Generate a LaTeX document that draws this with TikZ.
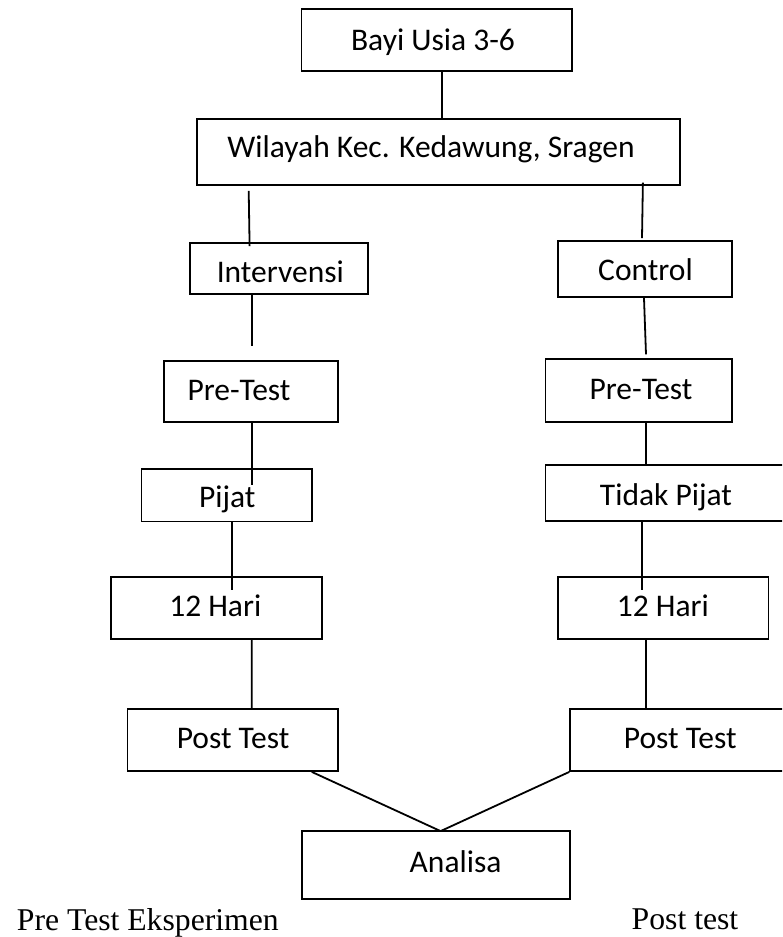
\documentclass[tikz,border=0pt]{standalone}
\usepackage{fontspec}
\setmainfont{Liberation Serif}
\newfontfamily\boxfont{Carlito}
\usetikzlibrary{calc}
\tikzset{
  box/.style={draw=black, line width=1.8pt, rectangle, inner sep=0pt, fill=none},
  lbl/.style={font=\boxfont\fontsize{31.5}{36}\selectfont, anchor=base, inner sep=0pt},
  captext/.style={font=\fontsize{31.7}{36}\selectfont, anchor=base west, inner sep=0pt},
  conn/.style={draw=black, line width=1.8pt}
}
\begin{document}
\begin{tikzpicture}[x=1pt, y=-1pt]
\useasboundingbox (0,0) rectangle (782,937);
\clip (0,0) rectangle (782,937);
\fill[white] (0,0) rectangle (782,937);

% boxes
\node[box, minimum width=270.2pt, minimum height=62pt]   (bayi)  at (436.6,40.3)   {};
\node[box, minimum width=483pt,   minimum height=66pt]   (wil)   at (438.5,152.3)  {};
\node[box, minimum width=178.2pt, minimum height=50.7pt] (int)   at (278.7,268.65) {};
\node[box, minimum width=174.3pt, minimum height=56pt]   (ctl)   at (644.85,269.3) {};
\node[box, minimum width=174pt,   minimum height=61pt]   (preL)  at (251,391.5)    {};
\node[box, minimum width=186.5pt, minimum height=62.7pt] (preR)  at (638.75,390.65){};
\node[box, minimum width=170.5pt, minimum height=52.2pt] (pijat) at (226.75,495.4) {};
\node[box, minimum width=244.5pt, minimum height=56pt]   (tidak) at (667.75,493.3) {};
\node[box, minimum width=210.7pt, minimum height=62.3pt] (hariL) at (216.65,607.85){};
\node[box, minimum width=210.4pt, minimum height=62.3pt] (hariR) at (663.2,607.85) {};
\node[box, minimum width=210.6pt, minimum height=62.3pt] (postL) at (232.7,739.85) {};
\node[box, minimum width=219.8pt, minimum height=62.3pt] (postR) at (680.1,739.85) {};
\node[box, minimum width=268.4pt, minimum height=68.3pt] (ana)   at (436,864.85)   {};

% box texts
\node[lbl] (bayiT)  at (433,50)      {Bayi Usia 3-6};
\node[lbl] (wilT)   at (431,157.3)   {Wilayah Kec. Kedawung, Sragen};
\node[lbl] (intT)   at (280.3,282.7) {Intervensi};
\node[lbl] (ctlT)   at (645.5,280)   {Control};
\node[lbl] (preLT)  at (239,400)     {Pre-Test};
\node[lbl] (preRT)  at (641,399.3)   {Pre-Test};
\node[lbl] (pijatT) at (227.2,507)   {Pijat};
\node[lbl] (tidakT) at (666,505)     {Tidak Pijat};
\node[lbl] (hariLT) at (215.3,616.7) {12 Hari};
\node[lbl] (hariRT) at (662.9,616.7) {12 Hari};
\node[lbl] (postLT) at (233.1,748.7) {Post Test};
\node[lbl] (postRT) at (680.3,748.7) {Post Test};
\node[lbl] (anaT)   at (455.6,872)   {Analisa};

% captions
\node[captext] (capL) at (16.7,930) {Pre Test Eksperimen};
\node[captext] (capR) at (631.5,929) {Post test};

% connectors
\draw[conn] ($(bayi.south)+(5.4,0)$) -- ($(wil.north)+(3.5,0)$);
\draw[conn] ($(wil.south west)+(52.6,4.7)$) -- ($(int.north)+(-29.1,3.7)$);
\draw[conn] ($(wil.south east)+(-38,-3.6)$) -- ($(ctl.north)+(-2.85,-2.3)$);
\draw[conn] ($(int.south)+(-27,0)$) -- ($(preL.north)+(0.7,-13.7)$);
\draw[conn] ($(ctl.south)+(-0.85,0)$) -- ($(preR.north)+(7.25,-4)$);
\draw[conn] ($(preL.south)+(0.7,0)$) -- ($(pijat.north)+(24.95,16.7)$);
\draw[conn] ($(preR.south)+(7.25,0)$) -- ($(tidak.north)+(-21.75,0)$);
\draw[conn] ($(pijat.south)+(5.45,0)$) -- ($(hariL.north)+(15.55,14)$);
\draw[conn] ($(tidak.south)+(-25.75,0)$) -- ($(hariR.north)+(-21.2,14)$);
\draw[conn] ($(hariL.south)+(35.15,0)$) -- ($(postL.north)+(19.1,0)$);
\draw[conn] ($(hariR.south)+(-16.9,0)$) -- ($(postR.north)+(-33.8,0)$);
\draw[conn] ($(postL.south)+(79.1,0)$) -- ($(ana.north)+(4.6,1.3)$);
\draw[conn] (postR.south west) -- ($(ana.north)+(4.6,1.3)$);
\end{tikzpicture}
\end{document}
